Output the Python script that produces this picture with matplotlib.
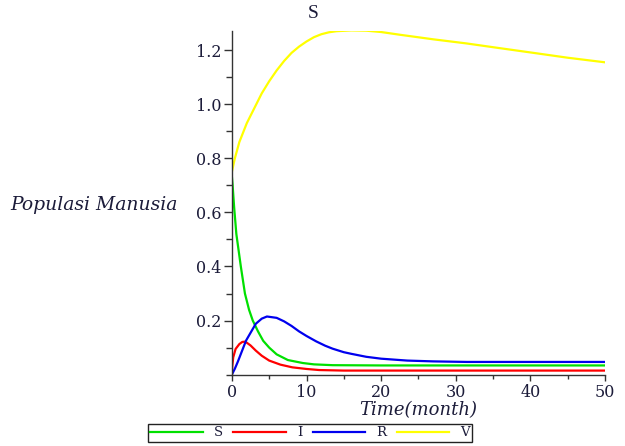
import matplotlib
matplotlib.use('Agg')
import matplotlib.pyplot as plt
from matplotlib.ticker import MultipleLocator

# values
t_V = [0, 0.4, 1, 2, 3, 4, 5, 6, 7, 8, 9, 10, 11, 12, 13, 14, 16, 18, 20, 22.5, 27, 31.4, 36, 40.4, 45, 50]
V = [0.75, 0.80, 0.86, 0.93, 0.985, 1.04, 1.085, 1.125, 1.16, 1.19, 1.213, 1.232, 1.248, 1.259, 1.266, 1.27, 1.273, 1.272, 1.267, 1.257, 1.24, 1.225, 1.207, 1.19, 1.172, 1.155]

t_S = [0, 0.1, 0.3, 0.6, 1, 1.2, 1.75, 2.3, 2.8, 3.5, 4.2, 5, 6, 7.5, 9.5, 11, 13.5, 20, 30, 40, 50]
S = [0.733, 0.70, 0.62, 0.52, 0.44, 0.40, 0.30, 0.24, 0.20, 0.16, 0.125, 0.10, 0.075, 0.054, 0.043, 0.038, 0.035, 0.034, 0.034, 0.034, 0.034]

t_I = [0, 0.05, 0.18, 0.5, 1, 1.4, 1.8, 2.5, 3.2, 4, 5, 6.5, 8.1, 10, 11.7, 15, 20, 30, 40, 50]
I = [0.0, 0.03, 0.064, 0.095, 0.113, 0.121, 0.122, 0.108, 0.089, 0.07, 0.052, 0.037, 0.027, 0.021, 0.017, 0.015, 0.015, 0.015, 0.015, 0.015]

t_R = [0, 0.4, 0.8, 1.9, 3.2, 4, 4.7, 6, 7, 8, 9, 10, 11.3, 12.5, 13.5, 15, 16, 18, 20, 23.5, 27, 31.5, 40, 50]
R = [0.0, 0.022, 0.048, 0.126, 0.188, 0.207, 0.215, 0.21, 0.197, 0.18, 0.16, 0.143, 0.123, 0.107, 0.096, 0.083, 0.077, 0.066, 0.059, 0.052, 0.049, 0.047, 0.047, 0.047]

serif = 'DejaVu Serif'
lab_color = '#1c1c3a'

fig = plt.figure(figsize=(6.25, 4.46), dpi=100)
ax = fig.add_axes([0.371, 0.160, 0.597, 0.770])

lS, = ax.plot(t_S, S, color='#00e000', lw=1.6)
lI, = ax.plot(t_I, I, color='#ff0000', lw=1.6)
lR, = ax.plot(t_R, R, color='#0000ee', lw=1.6)
lV, = ax.plot(t_V, V, color='#ffff00', lw=1.6)

ax.set_xlim(0, 50)
ax.set_ylim(0, 1.27)
ax.spines['top'].set_visible(False)
ax.spines['right'].set_visible(False)
for sp in ['left', 'bottom']:
    ax.spines[sp].set_color('#333333')
    ax.spines[sp].set_linewidth(1.0)

ax.xaxis.set_major_locator(MultipleLocator(10))
ax.xaxis.set_minor_locator(MultipleLocator(5))
ax.yaxis.set_major_locator(MultipleLocator(0.2))
ax.yaxis.set_minor_locator(MultipleLocator(0.1))
ax.tick_params(which='both', direction='out', width=1, color='#333333',
               labelsize=11.5, labelcolor=lab_color)
ax.tick_params(axis='y', which='major', length=6, pad=1.5)
ax.tick_params(axis='y', which='minor', length=4)
ax.tick_params(axis='x', which='major', length=4, pad=2.5)
ax.tick_params(axis='x', which='minor', length=3)
ax.set_yticks([0.2, 0.4, 0.6, 0.8, 1.0, 1.2])
ax.set_yticklabels(['0.2', '0.4', '0.6', '0.8', '1.0', '1.2'])
for lbl in ax.get_xticklabels() + ax.get_yticklabels():
    lbl.set_fontfamily(serif)

fig.text(313 / 625, 1 - 14 / 446, 'S', ha='center', va='center',
         fontsize=14, family='Liberation Serif', color=lab_color)
fig.text(10 / 625, 1 - 205 / 446, 'Populasi Manusia', ha='left', va='center',
         fontsize=13.5, family=serif, style='italic', color=lab_color)
fig.text(418 / 625, 1 - 410 / 446, 'Time(month)', ha='center', va='center',
         fontsize=13, family=serif, style='italic', color=lab_color)

leg = fig.legend([lS, lI, lR, lV], ['S', 'I', 'R', 'V'], loc='center',
                 bbox_to_anchor=(310 / 625, 1 - 433 / 446), ncol=4,
                 prop={'family': serif, 'size': 9.5}, handlelength=4.0,
                 handletextpad=0.8, columnspacing=0.8, borderpad=0.2,
                 fancybox=False, framealpha=1, edgecolor='#222222')
leg.get_frame().set_linewidth(1.0)
for txt in leg.get_texts():
    txt.set_color(lab_color)

fig.savefig('out.png', dpi=100)
